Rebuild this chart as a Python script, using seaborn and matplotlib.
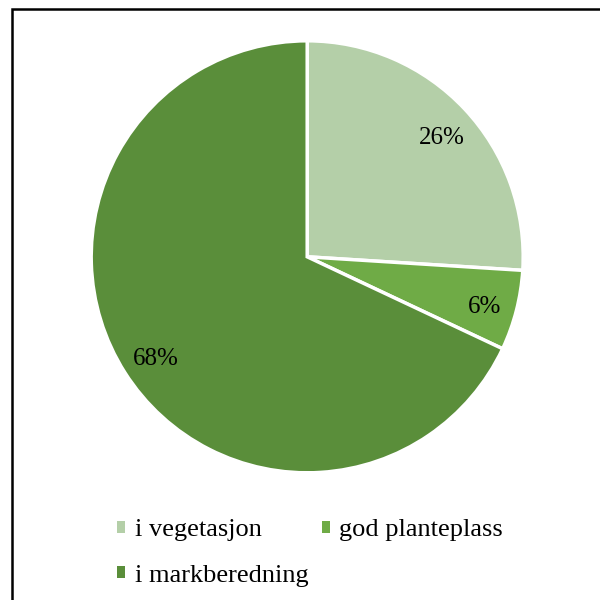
import matplotlib
matplotlib.use("Agg")
import matplotlib.pyplot as plt
from matplotlib.patches import Rectangle, Patch
from matplotlib.transforms import offset_copy
import seaborn as sns

labels = ['i vegetasjon', 'god planteplass', 'i markberedning']
values = [26, 6, 68]
colors = ['#b4cfa8', '#6fab46', '#5a8e3a']

sns.set_theme(style='white')
plt.rcParams['font.family'] = ['Liberation Serif', 'DejaVu Serif']
plt.rcParams['text.color'] = 'black'

fig = plt.figure(figsize=(6, 6), dpi=100)

# outer frame (right and bottom edges fall outside the canvas)
fig.patches.append(Rectangle((0.02, -0.1), 1.2, 1.085, transform=fig.transFigure,
                             fill=False, edgecolor='black', linewidth=1.8))

ax = fig.add_axes([0.512 - 0.36, 0.572 - 0.36, 0.72, 0.72])
wedges, texts, autotexts = ax.pie(values, colors=colors, startangle=90, counterclock=False,
                                  autopct='%1.0f%%', pctdistance=0.84,
                                  wedgeprops=dict(edgecolor='white', linewidth=2.5),
                                  textprops=dict(fontsize=18, color='black'))
# nudge the percentage labels down a touch so the glyphs sit centred
for t in autotexts:
    t.set_transform(offset_copy(ax.transData, fig=fig, x=2, y=-5, units='dots'))
ax.set_xlim(-1, 1)
ax.set_ylim(-1, 1)
ax.set_aspect('equal')
ax.axis('off')

# legend fills column-wise, so reorder to get a row-wise layout
order = [0, 2, 1]
handles = [Patch(facecolor=colors[i], edgecolor='none') for i in order]
fig.legend(handles, [labels[i] for i in order], loc='upper left',
           bbox_to_anchor=(0.177, 0.152), ncol=2, frameon=False, fontsize=19,
           labelcolor='black', handlelength=0.33, handleheight=0.33,
           handletextpad=0.35, columnspacing=0.5, labelspacing=0.88, borderaxespad=0)

fig.savefig('out.png', dpi=100)
